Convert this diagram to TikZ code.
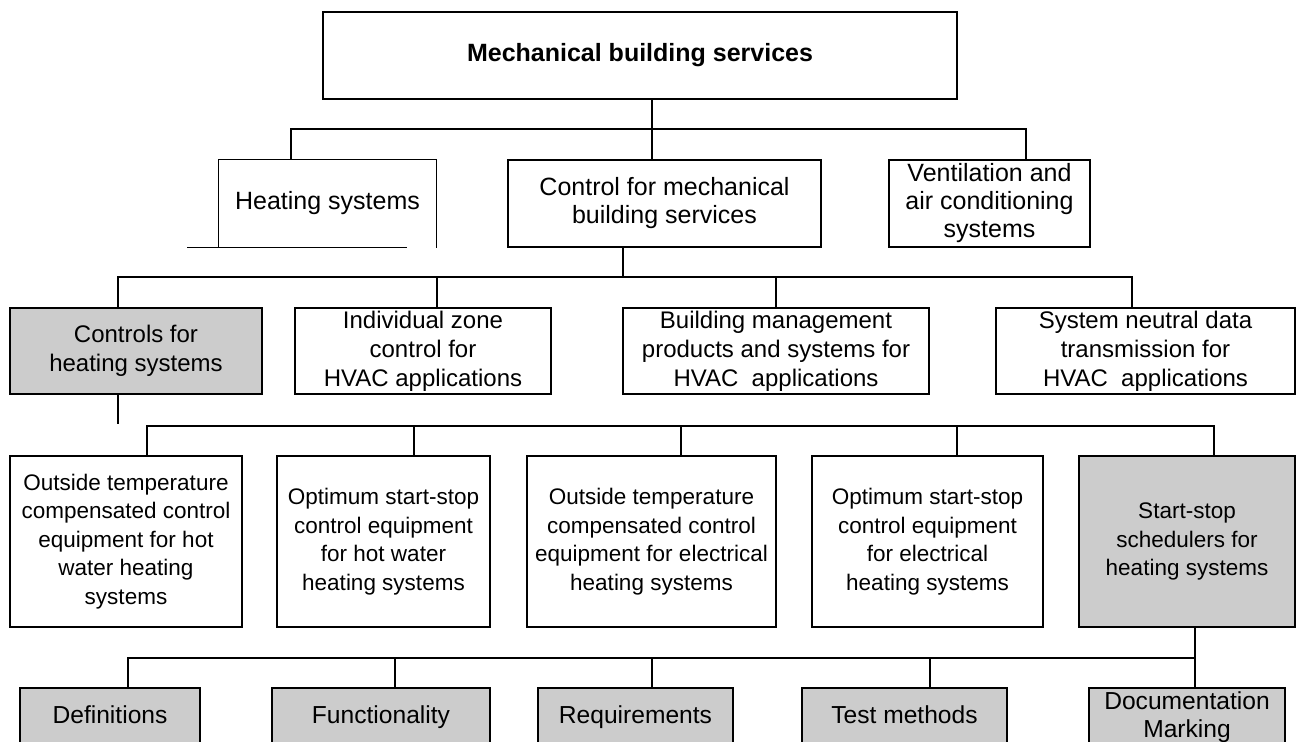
\documentclass[tikz,border=0pt]{standalone}
\usepackage{fontspec}
\setmainfont{Liberation Sans}
\usetikzlibrary{calc}

\tikzset{
  box/.style={draw, line width=0.7pt, align=center, inner sep=0pt},
  shaded/.style={box, fill=black!20},
  head/.style={font=\bfseries\fontsize{12.5}{14}\selectfont},
  lvltwo/.style={font=\fontsize{12.5}{14}\selectfont, minimum height=43.5pt},
  lvlthree/.style={font=\fontsize{12}{14.5}\selectfont, minimum height=43pt},
  lvlfour/.style={font=\fontsize{11.25}{14.25}\selectfont, minimum height=85.5pt},
  lvlfive/.style={font=\fontsize{12.3}{14}\selectfont, minimum height=29pt},
  oneline/.style={text height=9pt, text depth=2.8pt}
}

\begin{document}
\begin{tikzpicture}[x=0.5pt, y=-0.5pt, line width=0.7pt]
    \useasboundingbox (0,0) rectangle (1301,742);

    % top level
    \node[box, head, minimum width=317pt, minimum height=43.5pt] (top) at (640,55.5) {Mechanical building services};

    % second level
    \node[lvltwo, inner sep=0pt, minimum width=108.5pt] (heat) at (327.5,203.5) {Heating systems};
    \node[box, lvltwo, minimum width=156.5pt] (ctrl) at (664.5,203.5) {Control for mechanical\\building services};
    \node[box, lvltwo, minimum width=100.5pt] (vent) at (989.5,203.5) {Ventilation and\\air conditioning\\systems};
    \draw (heat.south west) -- (heat.north west) -- (heat.north east) -- (heat.south east);
    \draw ($(heat.south west)+(-31,0)$) -- ($(heat.south east)+(-30,0)$);

    % third level
    \node[shaded, lvlthree, minimum width=126pt] (chs) at (136,351) {Controls for\\heating systems};
    \node[box, lvlthree, minimum width=128pt] (izc) at (423,351) {Individual zone\\control for\\HVAC applications};
    \node[box, lvlthree, minimum width=153pt] (bms) at (776,351) {Building management\\products and systems for\\HVAC\ \ applications};
    \node[box, lvlthree, minimum width=149.5pt] (snd) at (1145.5,351) {System neutral data\\transmission for\\HVAC\ \ applications};

    % fourth level
    \node[box, lvlfour, minimum width=116pt] (otw) at (126,541.5) {Outside temperature\\compensated control\\equipment for hot\\water heating\\systems};
    \node[box, lvlfour, minimum width=106.5pt] (ohw) at (383.5,541.5) {Optimum start-stop\\control equipment\\for hot water\\heating systems};
    \node[box, lvlfour, minimum width=124.5pt] (ote) at (651.5,541.5) {Outside temperature\\compensated control\\equipment for electrical\\heating systems};
    \node[box, lvlfour, minimum width=115.5pt] (oel) at (927.5,541.5) {Optimum start-stop\\control equipment\\for electrical\\heating systems};
    \node[shaded, lvlfour, minimum width=108pt] (ssh) at (1187,541.5) {Start-stop\\schedulers for\\heating systems};

    % fifth level
    \node[shaded, lvlfive, oneline, minimum width=90pt] (def) at (110,717) {Definitions};
    \node[shaded, lvlfive, oneline, minimum width=109pt] (fun) at (381,717) {Functionality};
    \node[shaded, lvlfive, oneline, minimum width=97.5pt] (req) at (635.5,717) {Requirements};
    \node[shaded, lvlfive, oneline, minimum width=102.5pt] (tst) at (904.5,717) {Test methods};
    \node[shaded, lvlfive, minimum width=98pt] (doc) at (1187,717) {Documentation\\Marking};

    % bus lines
    \coordinate (b1l) at (291,129);
    \coordinate (b1m) at (652,129);
    \coordinate (b1r) at (1026,129);
    \draw (b1l |- heat.north) -- (b1l) -- (b1r) -- (b1r |- vent.north);
    \draw (b1m |- top.south) -- (b1m |- ctrl.north);

    \coordinate (b2a) at (118,277);
    \coordinate (b2b) at (437,277);
    \coordinate (b2c) at (776,277);
    \coordinate (b2d) at (1132,277);
    \coordinate (b2u) at (623,277);
    \draw (b2a |- chs.north) -- (b2a) -- (b2d) -- (b2d |- snd.north);
    \draw (b2b) -- (b2b |- izc.north);
    \draw (b2c) -- (b2c |- bms.north);
    \draw (b2u |- ctrl.south) -- (b2u);

    \coordinate (b3s) at (118,424);
    \draw (b3s |- chs.south) -- (b3s);
    \coordinate (b3a) at (147,426);
    \coordinate (b3b) at (414,426);
    \coordinate (b3c) at (681,426);
    \coordinate (b3d) at (957,426);
    \coordinate (b3e) at (1214,426);
    \draw (b3a |- otw.north) -- (b3a) -- (b3e) -- (b3e |- ssh.north);
    \draw (b3b) -- (b3b |- ohw.north);
    \draw (b3c) -- (b3c |- ote.north);
    \draw (b3d) -- (b3d |- oel.north);

    \coordinate (b4a) at (128,658);
    \coordinate (b4b) at (395,658);
    \coordinate (b4c) at (652,658);
    \coordinate (b4d) at (930,658);
    \coordinate (b4e) at (1195,658);
    \draw (b4a |- def.north) -- (b4a) -- (b4e);
    \draw (b4e |- ssh.south) -- (b4e |- doc.north);
    \draw (b4b) -- (b4b |- fun.north);
    \draw (b4c) -- (b4c |- req.north);
    \draw (b4d) -- (b4d |- tst.north);
\end{tikzpicture}
\end{document}
